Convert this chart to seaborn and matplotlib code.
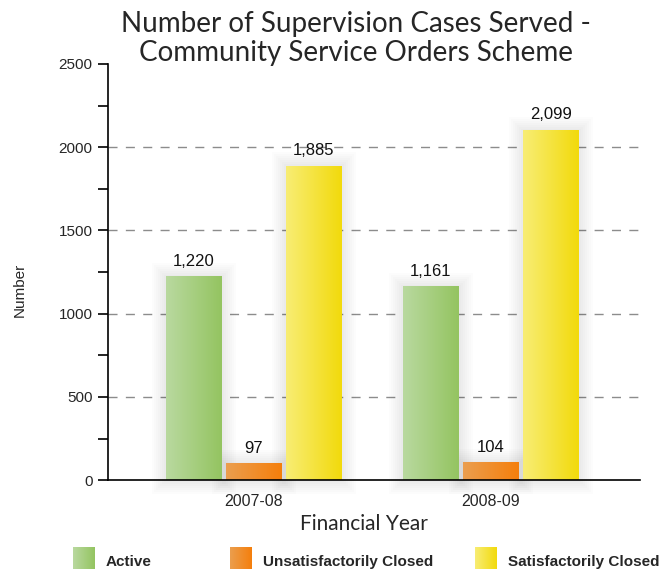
import numpy as np
import pandas as pd
import matplotlib
matplotlib.use('Agg')
import matplotlib.pyplot as plt
from matplotlib.colors import LinearSegmentedColormap
from matplotlib.patches import Rectangle
from matplotlib.ticker import MultipleLocator
import seaborn as sns

years = ['2007-08', '2008-09']
statuses = ['Active', 'Unsatisfactorily Closed', 'Satisfactorily Closed']
active = [1220, 1161]
unsatisfactory = [97, 104]
satisfactory = [1885, 2099]

# left-to-right gradient ends for each status
light_colors = ['#b9d99f', '#eb9e4e', '#f8ed74']
dark_colors = ['#94c461', '#f57f0c', '#f2da0c']

df = pd.DataFrame({
    'year': years * 3,
    'status': [s for s in statuses for _ in years],
    'cases': active + unsatisfactory + satisfactory,
})

sns.set_style('white')
plt.rcParams['font.family'] = ['Liberation Sans', 'DejaVu Sans']

fig = plt.figure(figsize=(6.61, 5.71), dpi=100)
ax = fig.add_axes([0.163, 0.159, 0.805, 0.729])

sns.barplot(data=df, x='year', y='cases', hue='status', hue_order=statuses,
            palette=dark_colors, width=0.76, gap=0.07, legend=False, ax=ax)

ax.set_xlim(-0.616, 1.629)
ax.set_ylim(0, 2500)

# pixel -> data conversion for the soft glow behind the bars
px_x = 2.245 / 532
px_y = 2500 / 416

grad = np.linspace(0, 1, 64).reshape(1, -1)
for container, c0, c1 in zip(ax.containers, light_colors, dark_colors):
    cmap = LinearSegmentedColormap.from_list('grad', [c0, c1])
    for bar in container:
        x0, y0 = bar.get_x(), bar.get_y()
        w, h = bar.get_width(), bar.get_height()
        for k in range(1, 8):
            p = 2 * k
            ax.add_patch(Rectangle((x0 - p * px_x, y0 - p * px_y), w + 2 * p * px_x,
                                   h + 2 * p * px_y, facecolor='black', edgecolor='none',
                                   alpha=0.012, zorder=1.5, clip_on=False))
        ax.imshow(grad, cmap=cmap, extent=(x0, x0 + w, y0, y0 + h),
                  aspect='auto', origin='lower', zorder=2)
        bar.set_facecolor('none')
        bar.set_edgecolor('none')
    ax.bar_label(container, labels=[f'{v:,.0f}' for v in container.datavalues],
                 padding=6, fontsize=12, color='#111111')

ax.set_xlim(-0.616, 1.629)
ax.set_ylim(0, 2500)
ax.set_yticks(np.arange(0, 2501, 500))
ax.yaxis.set_minor_locator(MultipleLocator(250))

for yv in ax.get_yticks()[1:-1]:
    ax.axhline(yv, color='#8c8c8c', lw=1, dashes=(6.5, 6), zorder=1)

sns.despine(ax=ax)
for side in ['left', 'bottom']:
    ax.spines[side].set_color('black')
    ax.spines[side].set_linewidth(1.2)
    ax.spines[side].set_zorder(3)

ax.tick_params(axis='y', which='both', direction='out', length=7, width=1.2,
               left=True, color='black', labelsize=11, pad=4)
ax.tick_params(axis='x', length=0, labelsize=11.5, pad=10)
ax.set_xlabel('')
ax.set_ylabel('')

fig.text(0.539, 0.932, 'Number of Supervision Cases Served -\nCommunity Service Orders Scheme',
         ha='center', va='center', fontsize=20, family='Lato', linespacing=1.15)
fig.text(0.551, 0.082, 'Financial Year', ha='center', va='center', fontsize=15, family='Lato')
fig.text(0.030, 0.492, 'Number', ha='center', va='center', rotation=90, fontsize=11)

# legend with gradient swatches
swatch_x = [73, 230, 475]
for label, c0, c1, sx in zip(statuses, light_colors, dark_colors, swatch_x):
    sw = fig.add_axes([sx / 661, 1 - 569 / 571, 22 / 661, 22 / 571])
    sw.imshow(grad, cmap=LinearSegmentedColormap.from_list('grad', [c0, c1]),
              aspect='auto')
    sw.axis('off')
    fig.text((sx + 33) / 661, 1 - 562 / 571, label, ha='left', va='center',
             fontsize=11, fontweight='bold')

fig.savefig('out.png', dpi=100)
